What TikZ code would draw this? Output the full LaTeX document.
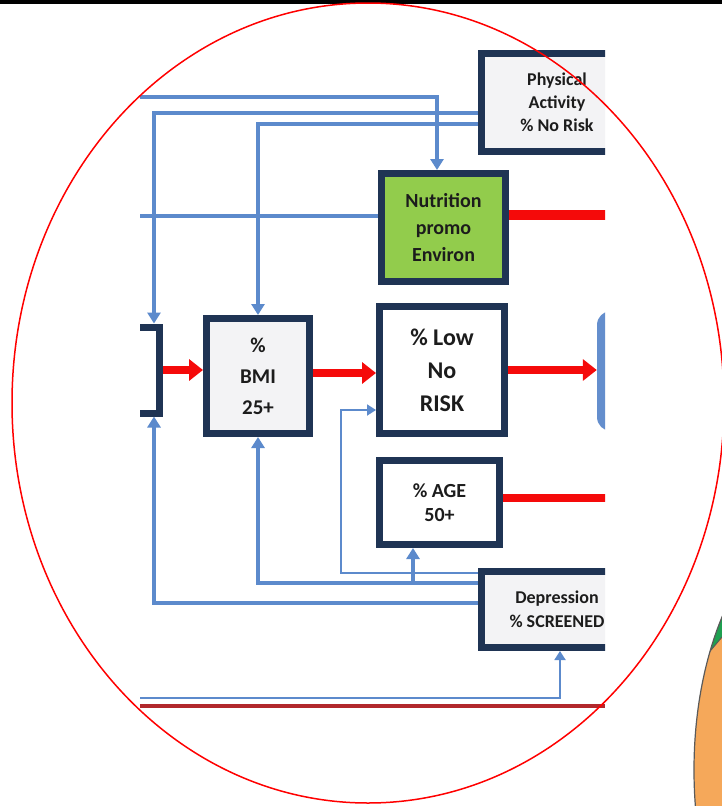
\documentclass[tikz,border=0pt]{standalone}
\usepackage{fontspec}
\setmainfont{Carlito}
\usetikzlibrary{arrows.meta,calc}
\definecolor{navy}{RGB}{31,52,84}
\definecolor{boxgray}{RGB}{243,243,245}
\definecolor{grn}{RGB}{146,204,76}
\definecolor{txt}{RGB}{28,28,28}
\definecolor{bl}{RGB}{92,138,204}
\definecolor{rd}{RGB}{245,10,10}
\definecolor{dred}{RGB}{178,40,44}
\definecolor{blueshape}{RGB}{100,142,205}
\definecolor{pieor}{RGB}{245,168,90}
\definecolor{piegr}{RGB}{30,160,80}
\definecolor{pieline}{RGB}{90,90,90}
\tikzset{
  box/.style={draw=navy, line width=7pt, fill=boxgray, text=txt, align=center, inner sep=0pt},
  bline/.style={draw=bl, line width=3.3pt},
  thinline/.style={draw=bl, line width=1.8pt},
  barr/.style={-{Triangle[length=11pt,width=13pt]}},
  tarr/.style={-{Triangle[length=9pt,width=11pt]}},
  rarr/.style={draw=rd, line width=8pt, -{Triangle[length=14pt,width=21pt]}},
  rline/.style={draw=rd, line width=8pt},
}
\begin{document}
\begin{tikzpicture}[x=1pt,y=-1pt]
\useasboundingbox (0,0) rectangle (722,806);
\fill[white] (0,0) rectangle (722,806);
% pie
\begin{scope}
  \clip (828,770) ellipse [x radius=134, y radius=250];
  \fill[pieor] (828,770) ellipse [x radius=134, y radius=250];
  \fill[piegr] (700,663) -- (722,637) -- (722,560) -- (680,560) -- cycle;
  \draw[pieline, line width=1pt] (700,663) -- (722,637);
\end{scope}
\draw[pieline, line width=1.2pt] (828,770) ellipse [x radius=134, y radius=250];
% diagram
\begin{scope}
\clip (140,44) rectangle (605,716);
\node[box, minimum width=151pt, minimum height=98pt, font=\fontsize{18}{23}\selectfont\bfseries] (phys) at (557,102.5) {Physical\\Activity\\\% No Risk};
\node[box, fill=grn, minimum width=124pt, minimum height=108pt, font=\fontsize{20}{27}\selectfont\bfseries] (nutr) at (443.5,227.5) {Nutrition\\promo\\Environ};
\node[box, minimum width=103pt, minimum height=115pt, font=\fontsize{21}{31}\selectfont\bfseries] (bmi) at (258,376) {\%\\BMI\\25+};
\node[box, fill=white, minimum width=125pt, minimum height=127pt, font=\fontsize{24}{33}\selectfont\bfseries] (low) at (442,370) {\% Low\\No\\RISK};
\node[box, fill=white, minimum width=120pt, minimum height=84pt, font=\fontsize{20}{24}\selectfont\bfseries] (age) at (439.5,502.5) {\% AGE\\50+};
\node[box, minimum width=151pt, minimum height=76pt, font=\fontsize{18}{24}\selectfont\bfseries] (dep) at (557,609.5) {Depression\\\% SCREENED};
\node[box, fill=white, minimum width=119pt, minimum height=86pt] (left) at (100,370) {};
\node[fill=blueshape, rounded corners=14pt, minimum width=130pt, minimum height=120pt] (rsh) at (662,371) {};
% blue connectors
\coordinate (a0) at (140,97);
\draw[bline, barr] (a0) -| ($(nutr.north)+(-6.5,0)$);
\draw[bline, barr] ($(phys.west)+(0,10.5)$) -| ($(left.north east)+(-9,0)$);
\draw[bline, barr] ($(phys.west)+(0,21.5)$) -| (bmi.north);
\coordinate (d0) at (140,216);
\draw[bline] (d0) -- (d0 -| nutr.west);
\draw[bline, barr] ($(dep.west)+(0,-26.5)$) -| (bmi.south);
\draw[bline, barr] ($(dep.west)+(0,-6.5)$) -| ($(left.south east)+(-9,0)$);
\coordinate (h0) at (413,583);
\draw[bline, barr] (h0) -- (h0 |- age.south);
\draw[thinline, tarr] ($(dep.west)+(0,-36.5)$) -| ($(low.west)+(-35,40)$) -- ($(low.west)+(0,40)$);
\coordinate (i0) at (140,698);
\draw[thinline, tarr] (i0) -| ($(dep.south)+(3,0)$);
% red connectors
\draw[rarr] (left.east) -- (left.east -| bmi.west);
\draw[rarr] ($(bmi.east)+(0,-3)$) -- ($(low.west)+(0,3)$);
\draw[rarr] (low.east) -- (low.east -| rsh.west);
\coordinate (nout) at (612,215);
\draw[rline, line width=10pt] (nout -| nutr.east) -- (nout);
\coordinate (aout) at (612,498);
\draw[rline] (aout -| age.east) -- (aout);
\coordinate (rb0) at (140,706);
\coordinate (rb1) at (605,706);
\draw[draw=dred, line width=4pt] (rb0) -- (rb1);
\end{scope}
% frame
\fill[black] (0,0) rectangle (722,4);
\draw[red, line width=1.5pt] (368,403) ellipse [x radius=356, y radius=400];
\end{tikzpicture}
\end{document}
